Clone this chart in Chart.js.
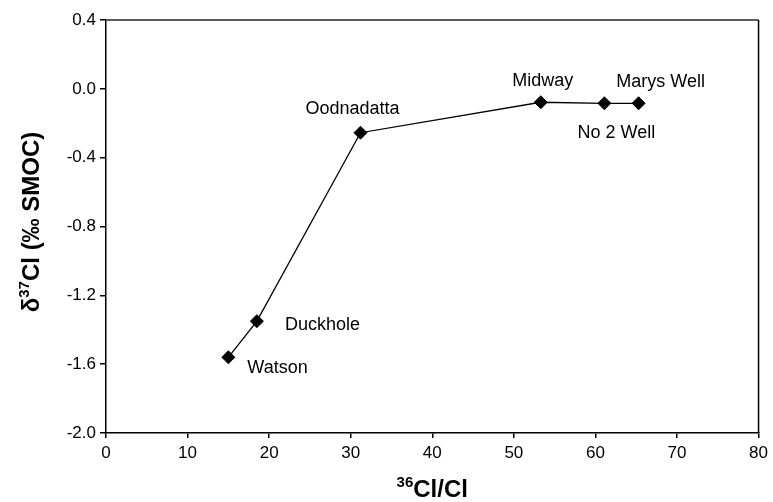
<!DOCTYPE html>
<html>
<head>
<meta charset="utf-8">
<script src="https://cdn.jsdelivr.net/npm/chart.js@4"></script>
<style>
  html, body { margin: 0; padding: 0; background: #fff; }
  #wrap { width: 773px; height: 502px; }
</style>
</head>
<body>
<div id="wrap"><canvas id="clChart" width="773" height="502"></canvas></div>
<script>
const sites = ['Watson', 'Duckhole', 'Oodnadatta', 'Midway', 'No 2 Well', 'Marys Well'];
const cl36 = [15.0, 18.5, 31.2, 53.3, 61.1, 65.3];
const d37 = [-1.56, -1.35, -0.255, -0.078, -0.084, -0.084];

// where each site name sits relative to its point (px)
const labelOffsets = [[19, 11, 'left'], [28, 4, 'left'], [-8, -24, 'center'],
  [2, -21, 'center'], [12, 30, 'center'], [22, -21, 'center']];

const font = 'Liberation Sans, Arial, sans-serif';

const siteLabels = {
  id: 'siteLabels',
  afterDatasetsDraw(chart) {
    const { ctx, scales: { x, y } } = chart;
    ctx.save();
    ctx.fillStyle = '#000';
    ctx.font = '18px ' + font;
    ctx.textBaseline = 'middle';
    sites.forEach((name, i) => {
      const [dx, dy, align] = labelOffsets[i];
      ctx.textAlign = align;
      ctx.fillText(name, x.getPixelForValue(cl36[i]) + dx, y.getPixelForValue(d37[i]) + dy);
    });
    ctx.restore();
  }
};

// frame around the plot plus axis titles with superscripts
const frameAndTitles = {
  id: 'frameAndTitles',
  afterDraw(chart) {
    const { ctx, chartArea: a } = chart;
    ctx.save();
    ctx.strokeStyle = '#5a5a5a';
    ctx.lineWidth = 2;
    ctx.beginPath();
    ctx.moveTo(a.left, a.top);
    ctx.lineTo(a.right, a.top);
    ctx.stroke();
    ctx.strokeStyle = '#000';
    ctx.lineWidth = 1.5;
    ctx.beginPath();
    ctx.moveTo(a.right, a.top);
    ctx.lineTo(a.right, a.bottom);
    ctx.stroke();

    ctx.fillStyle = '#000';
    ctx.textBaseline = 'alphabetic';
    ctx.textAlign = 'left';

    // x title: 36Cl/Cl
    const big = 'bold 24px ' + font, small = 'bold 15px ' + font;
    ctx.font = small;
    const wSup = ctx.measureText('36').width;
    ctx.font = big;
    const wMain = ctx.measureText('Cl/Cl').width;
    let tx = (a.left + a.right) / 2 - (wSup + wMain) / 2;
    const ty = 497;
    ctx.font = small;
    ctx.fillText('36', tx, ty - 10);
    ctx.font = big;
    ctx.fillText('Cl/Cl', tx + wSup, ty);

    // y title: δ37Cl (‰ SMOC)
    ctx.translate(39, 222);
    ctx.rotate(-Math.PI / 2);
    ctx.font = big;
    const w1 = ctx.measureText('\u03b4').width;
    const w3 = ctx.measureText('Cl (\u2030 SMOC)').width;
    ctx.font = small;
    const w2 = ctx.measureText('37').width;
    let sx = -(w1 + w2 + w3) / 2;
    ctx.font = big;
    ctx.fillText('\u03b4', sx, 0);
    ctx.font = small;
    ctx.fillText('37', sx + w1, -10);
    ctx.font = big;
    ctx.fillText('Cl (\u2030 SMOC)', sx + w1 + w2, 0);
    ctx.restore();
  }
};

new Chart(document.getElementById('clChart'), {
  type: 'scatter',
  data: {
    datasets: [{
      data: cl36.map((v, i) => ({ x: v, y: d37[i] })),
      showLine: true,
      borderColor: '#000',
      borderWidth: 1.3,
      backgroundColor: '#000',
      pointStyle: 'rectRot',
      pointRadius: 6.5,
      pointHoverRadius: 6.5,
      pointBorderWidth: 1
    }]
  },
  options: {
    responsive: false,
    animation: false,
    layout: { padding: { top: 20, right: 14, left: 0, bottom: 0 } },
    plugins: { legend: { display: false }, tooltip: { enabled: false } },
    scales: {
      x: {
        min: 0, max: 80,
        afterFit(s) { s.height = 69; },
        ticks: { stepSize: 10, color: '#000', font: { family: font, size: 17 }, padding: 5 },
        grid: { drawOnChartArea: false, tickLength: 5, color: '#000', lineWidth: 1.5 },
        border: { color: '#000', width: 1.5 }
      },
      y: {
        min: -2.0, max: 0.4,
        afterFit(s) { s.width = 106; },
        ticks: {
          stepSize: 0.4, color: '#000', font: { family: font, size: 17 }, padding: 4,
          callback: v => (Math.abs(v) < 1e-9 ? 0 : v).toFixed(1)
        },
        grid: { drawOnChartArea: false, tickLength: 6, color: '#000', lineWidth: 1.5 },
        border: { color: '#000', width: 1.5 }
      }
    }
  },
  plugins: [siteLabels, frameAndTitles]
});
</script>
</body>
</html>
